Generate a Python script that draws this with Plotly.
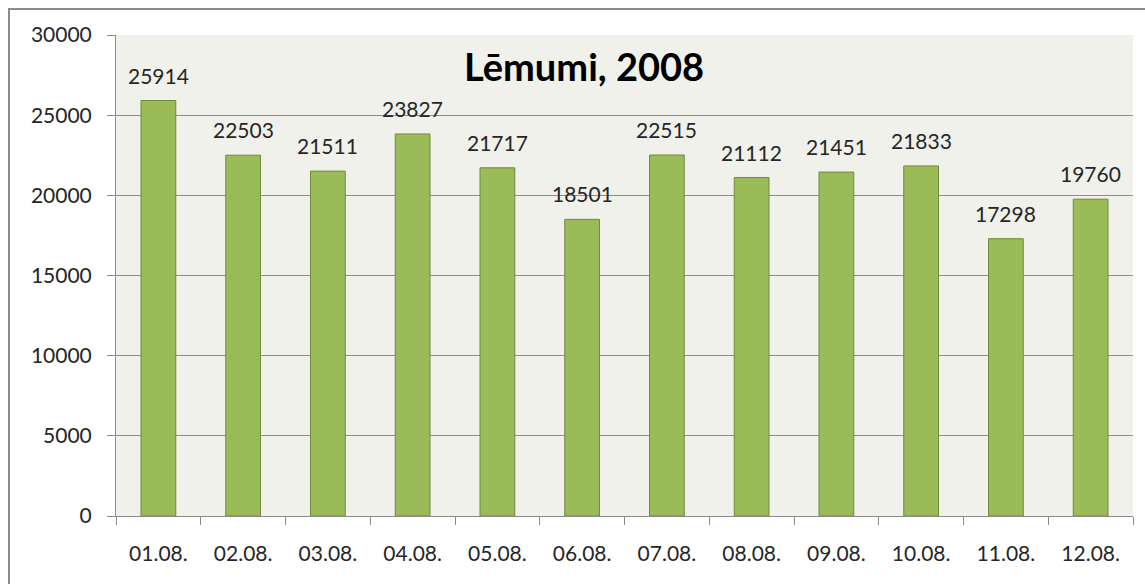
import plotly.graph_objects as go

categories = ["01.08.", "02.08.", "03.08.", "04.08.", "05.08.", "06.08.",
              "07.08.", "08.08.", "09.08.", "10.08.", "11.08.", "12.08."]
values = [25914, 22503, 21511, 23827, 21717, 18501, 22515, 21112, 21451, 21833, 17298, 19760]
title_text = "Lēmumi, 2008"

W, H = 1145, 584
L, R, T, B = 116, 12, 35, 68
pw, ph = W - L - R, H - T - B

font_family = "Lato, 'Open Sans', sans-serif"
txt_color = "#262626"

fig = go.Figure(go.Bar(
    x=categories, y=values,
    marker=dict(color="#9BBB59", line=dict(color="#71893F", width=1)),
    width=0.41,
    hoverinfo="x+y",
))

annotations = [
    dict(x=c, y=v, text=str(v), showarrow=False, xref="x", yref="y",
         yanchor="bottom", yshift=11, font=dict(family=font_family, size=21, color=txt_color))
    for c, v in zip(categories, values)
]
annotations.append(dict(
    x=(584 - L) / pw, y=(516 - 66) / ph, xref="paper", yref="paper",
    text="<b>" + title_text + "</b>", showarrow=False,
    xanchor="center", yanchor="middle",
    font=dict(family=font_family, size=38, color="#000000"),
))

fig.update_layout(
    width=W, height=H,
    margin=dict(l=L, r=R, t=T, b=B, pad=0),
    paper_bgcolor="white",
    plot_bgcolor="#EFF1EA",
    showlegend=False,
    bargap=0.59,
    annotations=annotations,
    shapes=[dict(type="rect", xref="paper", yref="paper",
                 x0=(9 - L) / pw, x1=(1160 - L) / pw,
                 y0=(516 - 600) / ph, y1=(516 - 9) / ph,
                 line=dict(color="#8C8C8C", width=2), layer="below")],
    font=dict(family=font_family, size=21, color=txt_color),
)
fig.update_xaxes(
    showline=True, linecolor="#8C8C8C", linewidth=1,
    ticks="outside", ticklen=8, tickcolor="#8C8C8C", tickson="boundaries",
    showgrid=False, ticklabelstandoff=19,
    tickfont=dict(family=font_family, size=21, color=txt_color),
)
fig.update_yaxes(
    range=[0, 30000], dtick=5000, tick0=0, tickformat="d",
    showline=True, linecolor="#8C8C8C", linewidth=1,
    ticks="outside", ticklen=8, tickcolor="#8C8C8C",
    showgrid=True, gridcolor="#8C8C8C", gridwidth=1,
    zeroline=False, ticklabelstandoff=11,
    tickfont=dict(family=font_family, size=21, color=txt_color),
)

fig.write_html("out.html",
               config={"displayModeBar": False},
               post_script="document.body.style.margin='0px';document.body.style.overflow='hidden';")
